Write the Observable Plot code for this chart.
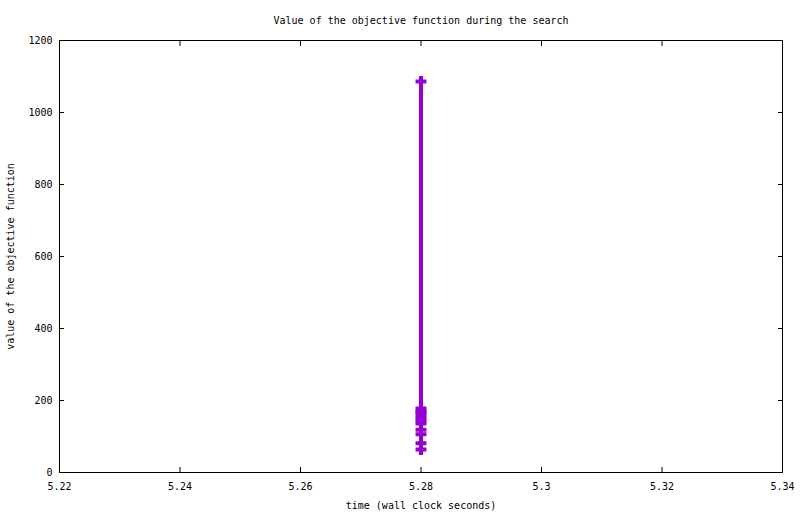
<!DOCTYPE html>
<html>
<head>
<meta charset="utf-8">
<script src="https://cdn.jsdelivr.net/npm/d3@7"></script>
<script src="https://cdn.jsdelivr.net/npm/@observablehq/plot@0.6"></script>
<style>
  body { margin: 0; background: white; }
</style>
</head>
<body>
<div id="chart"></div>
<script>
// objective function values over wall clock time
const times = [5.28, 5.28, 5.28, 5.28, 5.28, 5.28, 5.28, 5.28, 5.28, 5.28, 5.28, 5.28];
const values = [1086, 178, 171, 165, 158, 151, 143, 136, 119, 106, 81, 64];

const xTicks = [5.22, 5.24, 5.26, 5.28, 5.3, 5.32, 5.34];
const yTicks = [0, 200, 400, 600, 800, 1000, 1200];

const titleText = "Value of the objective function during the search";
const xLabel = "time (wall clock seconds)";
const yLabel = "value of the objective function";

const points = times.map((t, i) => ({t: t, v: values[i]}));
const violet = "#9400d3";

let chart = Plot.plot({
  width: 800,
  height: 514,
  marginLeft: 59,
  marginRight: 18,
  marginTop: 40,
  marginBottom: 42,
  style: {
    fontFamily: "'DejaVu Sans Mono', monospace",
    fontSize: "10px",
    color: "black",
    background: "white",
    overflow: "visible"
  },
  x: { domain: [5.22, 5.34] },
  y: { domain: [0, 1200] },
  marks: [
    Plot.frame({stroke: "black"}),
    // tick labels
    Plot.axisX({ticks: xTicks, tickSize: 0, tickPadding: 10, tickFormat: d => String(d), label: null}),
    Plot.axisY({ticks: yTicks, tickSize: 0, tickPadding: 7, tickFormat: d => String(d), label: null}),
    // inward ticks on all four sides
    Plot.axisX({ticks: xTicks, anchor: "bottom", tickSize: -5, fill: "none", label: null}),
    Plot.axisX({ticks: xTicks, anchor: "top", tickSize: -5, fill: "none", label: null}),
    Plot.axisY({ticks: yTicks, anchor: "left", tickSize: -5, fill: "none", label: null}),
    Plot.axisY({ticks: yTicks, anchor: "right", tickSize: -5, fill: "none", label: null}),
    Plot.line(points, {x: "t", y: "v", stroke: violet, strokeWidth: 4}),
    Plot.dot(points, {x: "t", y: "v", symbol: "plus", r: 3.6, stroke: violet, strokeWidth: 4}),
    // title and axis labels
    Plot.text([titleText], {text: d => d, frameAnchor: "top", dy: -20, textAnchor: "middle", lineAnchor: "middle"}),
    Plot.text([xLabel], {text: d => d, frameAnchor: "bottom", dy: 33, textAnchor: "middle", lineAnchor: "middle"}),
    Plot.text([yLabel], {text: d => d, frameAnchor: "left", dx: -49, rotate: -90, textAnchor: "middle", lineAnchor: "middle"})
  ]
});

d3.select('#chart').append(() => chart);
</script>
</body>
</html>
